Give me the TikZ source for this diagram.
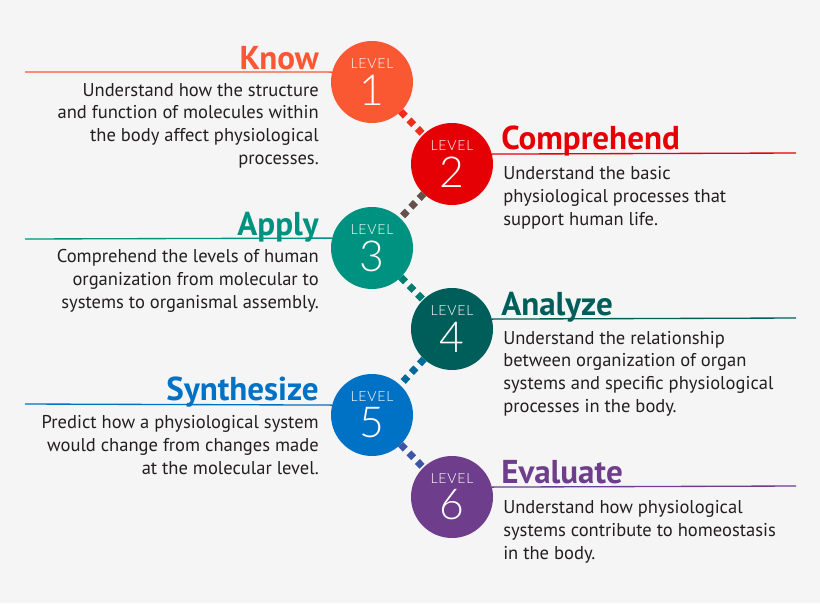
\documentclass[tikz,border=0pt]{standalone}
\usepackage		 {fontspec}
\setmainfont	 {PT Sans}
\newfontfamily\thinfont{Lato Light}
\usepackage		 {tikz	  }

\definecolor{bg}{RGB}{245,245,245}
\definecolor{know}{RGB}{250,87,51}
\definecolor{comp}{RGB}{229,0,6}
\definecolor{appl}{RGB}{0,146,128}
\definecolor{anal}{RGB}{0,94,90}
\definecolor{synt}{RGB}{0,114,198}
\definecolor{eval}{RGB}{110,62,140}
\definecolor{ink}{RGB}{35,31,32}

\begin{document}
\begin{tikzpicture}
  [x=0.75pt,y=-0.75pt,
   lev/.style={circle,minimum size=61.5pt,inner sep=0pt,outer sep=0pt},
   tag/.style={font=\thinfont\fontsize{10.5}{10.5}\selectfont\addfontfeature{LetterSpace=6},text=white,inner sep=0pt},
   num/.style={font=\thinfont\fontsize{32}{32}\selectfont,text=white,inner sep=0pt},
   head/.style={font=\bfseries\fontsize{24.8}{24.8}\selectfont,inner sep=0pt},
   desc/.style={font=\fontsize{13.9}{16.9}\selectfont,inner sep=0pt,text=ink},
   rule/.style={line width=1pt},
   dots/.style={line width=5.25pt,dash pattern=on 5pt off 4pt}]
  \fill[bg] (0,0) rectangle (820,603);
  \useasboundingbox (0,0) rectangle (820,603);

  \node[lev,fill=know] (lev1) at (372,82)  {};
  \node[lev,fill=comp] (lev2) at (452,164) {};
  \node[lev,fill=appl] (lev3) at (372,248) {};
  \node[lev,fill=anal] (lev4) at (452,329) {};
  \node[lev,fill=synt] (lev5) at (372,415) {};
  \node[lev,fill=eval] (lev6) at (452,497) {};

  \draw[dots,know!50!comp] (lev1) -- (lev2);
  \draw[dots,comp!45!appl] (lev2) -- (lev3);
  \draw[dots,appl!60!anal] (lev3) -- (lev4);
  \draw[dots,anal!40!synt] (lev4) -- (lev5);
  \draw[dots,synt!45!eval] (lev5) -- (lev6);

  \node[tag] (tag1) at ([yshift=13.9pt]lev1.center) {LEVEL};
  \node[tag] (tag2) at ([yshift=13.9pt]lev2.center) {LEVEL};
  \node[tag] (tag3) at ([yshift=13.9pt]lev3.center) {LEVEL};
  \node[tag] (tag4) at ([yshift=13.9pt]lev4.center) {LEVEL};
  \node[tag] (tag5) at ([yshift=13.9pt]lev5.center) {LEVEL};
  \node[tag] (tag6) at ([yshift=13.9pt]lev6.center) {LEVEL};
  \node[num] (num1) at ([yshift=-6pt]lev1.center) {1};
  \node[num] (num2) at ([yshift=-6pt]lev2.center) {2};
  \node[num] (num3) at ([yshift=-6pt]lev3.center) {3};
  \node[num] (num4) at ([yshift=-6pt]lev4.center) {4};
  \node[num] (num5) at ([yshift=-6pt]lev5.center) {5};
  \node[num] (num6) at ([yshift=-6pt]lev6.center) {6};

  % rules
  \coordinate (end1) at (25,72);
  \coordinate (end2) at (796,153);
  \coordinate (end3) at (25,239);
  \coordinate (end4) at (796,318);
  \coordinate (end5) at (25,404);
  \coordinate (end6) at (796,486);
  \draw[rule,know] (lev1.166) -- (end1);
  \draw[rule,comp] (lev2.14)  -- (end2);
  \draw[rule,appl] (lev3.166) -- (end3);
  \draw[rule,anal] (lev4.14)  -- (end4);
  \draw[rule,synt] (lev5.166) -- (end5);
  \draw[rule,eval] (lev6.14)  -- (end6);

  % headings
  \node[head,text=know,anchor=base east] (head1) at (319,69)  {Know};
  \node[head,text=comp,anchor=base west] (head2) at (501,149) {Comprehend};
  \node[head,text=appl,anchor=base east] (head3) at (319,235) {Apply};
  \node[head,text=anal,anchor=base west] (head4) at (501,315) {Analyze};
  \node[head,text=synt,anchor=base east] (head5) at (319,400) {Synthesize};
  \node[head,text=eval,anchor=base west] (head6) at (501,483) {Evaluate};

  % texts (base = last line)
  \node[desc,align=right,anchor=base east] (text1) at (319,164)
    {Understand how the structure\\and function of molecules within\\the body affect physiological\\processes.};
  \node[desc,align=left,anchor=base west] (text2) at (503,225)
    {Understand the basic\\physiological processes that\\support human life.};
  \node[desc,align=right,anchor=base east] (text3) at (319,308)
    {Comprehend the levels of human\\organization from molecular to\\systems to organismal assembly.};
  \node[desc,align=left,anchor=base west] (text4) at (503,412)
    {Understand the relationship\\between organization of organ\\systems and specific physiological\\processes in the body.};
  \node[desc,align=right,anchor=base east] (text5) at (319,474)
    {Predict how a physiological system\\would change from changes made\\at the molecular level.};
  \node[desc,align=left,anchor=base west] (text6) at (503,559)
    {Understand how physiological\\systems contribute to homeostasis\\in the body.};
\end{tikzpicture}
\end{document}
